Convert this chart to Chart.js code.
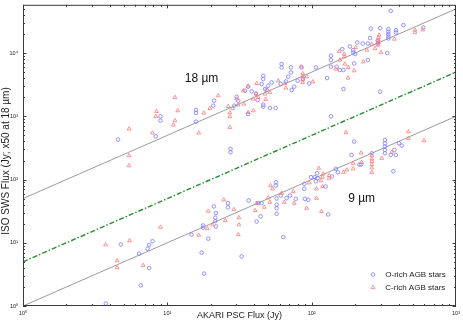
<!DOCTYPE html>
<html><head><meta charset="utf-8">
<script src="https://cdn.jsdelivr.net/npm/chart.js@4"></script>
<style>html,body{margin:0;padding:0;background:#fff;}canvas{display:block;}</style>
</head><body>
<canvas id="c" width="463" height="327"></canvas>
<script>
const xTickValues=[1,10,100,1000];
const xTickLabels=['10⁰','10¹','10²','10³'];
const yTickValues=[1,10,100,1000,10000];
const yTickLabels=['10⁰','10¹','10²','10³','10⁴'];
const seriesNames=['O-rich AGB stars','C-rich AGB stars'];

// O-rich AGB stars: AKARI PSC flux (Jy) and ISO SWS flux (Jy; x50 at 18 um)
const oRichAkari=[4.56,8.32,8.97,8.97,15.8,15.8,15.8,21.1,20.8,30.2,31.0,34.5,36.3,36.3,27.4,27.4,38.4,41.1,45.0,46.2,46.2,47.5,48.8,50.0,52.8,46.2,46.2,51.4,56.3,61.9,61.9,71.8,71.8,68.8,66.3,80.0,75.7,72.7,61.0,85.2,87.0,96.2,107,128,136,136,136,149,157,166,163,184,194,194,200,197,207,226,245,245,257,254,287,287,298,334,340,340,340,340,340,384,384,353,432,594,166,298,136,42.2,29.1,
 3.75,4.76,6.38,6.55,7.29,7.48,7.48,7.90,14.7,17.3,18.0,19.2,32.7,63.6,17.7,17.7,21.7,21.0,21.7,21.5,21.5,26.3,26.3,36.6,41.6,44.3,42.6,45.0,56.5,56.5,57.2,61.2,67.1,70.7,77.5,57.2,57.2,57.2,88.9,88.9,89.8,94.7,98.9,105,110,107,109,125,130,138,147,152,189,197,214,220,261,322,322,322,322,322,353,374,383,403,421,368];
const oRichIso=[428,483,998,854,1260,1129,823,1766,1473,2043,1766,2540,2938,1089,305,270,2476,2253,3242,4381,3887,2702,2606,3047,3435,1528,1420,1354,1354,6705,5925,5925,4940,4226,3562,3653,2938,2606,3242,5925,3929,3313,5925,4031,9066,7754,6077,6077,5390,5390,11570,12710,11150,10220,9643,6853,14700,14170,14170,7754,24450,17250,15640,14170,24810,10000,23920,21690,19950,18280,17000,23070,21140,46540,27670,25350,2702,2449,998,1812,1473,
 1.09,9.42,6.72,2.12,8.06,9.18,3.98,10.6,13.5,6.97,3.25,11.6,6.09,12.3,18.8,17.3,18.1,37.5,29.4,24.9,22.0,42.3,36.5,46.6,21.7,26.1,42.3,42.3,90.7,80.4,50.1,55.9,50.7,55.9,49.6,39.9,35.2,28.7,85.5,71.3,49.6,47.8,109,109,105,94.0,126,77.5,28.0,112,148,130,245,398,173,173,260,423,374,332,294,260,245,294,245,374,344,135];

// C-rich AGB stars
const cRichAkari=[5.43,7.90,5.43,5.43,8.42,8.32,11.8,11.3,11.0,11.3,16.5,17.9,19.7,22.5,26.4,28.3,27.1,27.1,27.1,31.0,33.6,33.9,36.3,36.3,39.4,30.2,39.4,42.6,41.6,41.1,47.5,51.4,58.7,65.3,66.3,84.3,86.6,86.6,86.6,86.6,92.3,102,147,155,157,168,168,170,179,179,197,202,228,241,261,275,290,290,290,290,293,302,374,520,520,589,48.0,
 3.73,5.47,4.49,4.49,6.80,8.97,16.5,31.0,19.2,18.9,20.6,24.6,25.2,28.9,31.3,31.3,40.6,41.6,46.9,50.0,51.4,51.9,53.6,61.9,64.6,74.6,75.7,92.3,96.2,108,108,112,116,119,119,120,132,132,117,166,175,194,194,222,220,173,261,261,261,261,261,261,306,359,468,468,601];
const cRichIso=[631,546,239,166,1197,998,1228,854,730,1991,546,1129,1335,2118,1436,1335,1142,987,669,1511,2540,1567,3014,1154,1228,1879,1879,1991,3313,2303,2253,2388,3653,3313,2803,6077,4764,4226,3789,3435,4226,3524,5589,10600,7754,9643,8744,6705,5925,4031,5255,12260,7290,11150,13870,11820,17630,16040,14700,13380,19240,10220,16630,23070,21140,23320,1852,
 9.32,10.8,5.21,4.04,4.39,17.7,13.2,13.5,31.6,16.7,19.3,47.8,22.5,33.6,24.9,19.3,32.4,42.3,36.5,51.4,43.8,80.4,71.3,60.8,43.8,64.7,42.3,35.2,88.7,71.3,50.7,151,96.4,109,77.5,123,116,105,31.3,130,142,148,181,188,264,558,239,212,194,173,153,130,217,270,572,449,413];

// reference relations: 9 um (y = x), 18 um (y = 50x), separator (y = 5x)
const lineX=[1,1000];
const line9Y=[1,1000];
const line18Y=[50,50000];
const lineMidY=[5,5000];

const bandLabels=['18 µm','9 µm'];
const bandLabelX=[13.2,179];
const bandLabelY=[3930,50.7];

const FONT='"Liberation Sans", Arial, Helvetica, sans-serif';
const BLUE='#7a7aff', RED='#ff7a7a';
const pts=(xs,ys)=>xs.map((v,i)=>({x:v,y:ys[i]}));

const decor={
  id:'decor',
  afterDatasetsDraw(chart){
    const {ctx,chartArea:a,scales:{x,y}}=chart;
    ctx.save();
    ctx.strokeStyle='#3a3a3a';ctx.lineWidth=1;
    ctx.strokeRect(a.left+0.5,a.top+0.5,a.right-a.left-1,a.bottom-a.top-1);
    ctx.beginPath();
    for(let d=0;d<3;d++)for(let m=1;m<10;m++){
      const v=m*Math.pow(10,d); if(v>x.max)break;
      const px=Math.round(x.getPixelForValue(v))+0.5, len=m===1?3.5:2;
      ctx.moveTo(px,a.bottom);ctx.lineTo(px,a.bottom-len);
      ctx.moveTo(px,a.top);ctx.lineTo(px,a.top+len);
    }
    for(let d=0;d<5;d++)for(let m=1;m<10;m++){
      const v=m*Math.pow(10,d); if(v>y.max)break;
      const py=Math.round(y.getPixelForValue(v))+0.5, len=m===1?3.5:2;
      ctx.moveTo(a.left,py);ctx.lineTo(a.left+len,py);
      ctx.moveTo(a.right,py);ctx.lineTo(a.right-len,py);
    }
    ctx.stroke();
    // band labels
    ctx.fillStyle='#111';ctx.font='12px '+FONT;ctx.textBaseline='middle';ctx.textAlign='left';
    bandLabels.forEach((t,i)=>ctx.fillText(t,x.getPixelForValue(bandLabelX[i]),y.getPixelForValue(bandLabelY[i])));
    // legend
    const lx=a.right-83, ly0=a.bottom-31.5, gap=13;
    ctx.font='8px '+FONT;ctx.fillStyle='#222';
    ctx.lineWidth=0.8;
    ctx.strokeStyle=BLUE;ctx.beginPath();ctx.arc(lx,ly0,1.8,0,Math.PI*2);ctx.stroke();
    ctx.strokeStyle=RED;ctx.beginPath();
    const r=2.2,ty=ly0+gap;
    ctx.moveTo(lx,ty-r);ctx.lineTo(lx+r*Math.sin(2*Math.PI/3),ty+r/2);ctx.lineTo(lx-r*Math.sin(2*Math.PI/3),ty+r/2);ctx.closePath();ctx.stroke();
    ctx.fillText(seriesNames[0],lx+12.3,ly0);
    ctx.fillText(seriesNames[1],lx+12.3,ty);
    ctx.restore();
  }
};

new Chart(document.getElementById('c'),{
  type:'scatter',
  data:{datasets:[
    {label:'9 µm relation',data:pts(lineX,line9Y),showLine:true,borderColor:'#9c9c9c',borderWidth:1,pointRadius:0,order:3},
    {label:'18 µm relation',data:pts(lineX,line18Y),showLine:true,borderColor:'#9c9c9c',borderWidth:1,pointRadius:0,order:3},
    {label:'separator',data:pts(lineX,lineMidY),showLine:true,borderColor:'#23902a',borderWidth:1.4,borderDash:[5,2,1.5,2],pointRadius:0,order:3},
    {label:seriesNames[0],data:pts(oRichAkari,oRichIso),pointStyle:'circle',pointRadius:1.8,borderColor:BLUE,backgroundColor:'rgba(0,0,0,0)',pointBorderWidth:0.8,borderWidth:0.8,order:2},
    {label:seriesNames[1],data:pts(cRichAkari,cRichIso),pointStyle:'triangle',pointRadius:2.2,borderColor:RED,backgroundColor:'rgba(0,0,0,0)',pointBorderWidth:0.8,borderWidth:0.8,order:1}
  ]},
  options:{
    responsive:false,animation:false,devicePixelRatio:1,
    layout:{padding:{left:0,right:7,top:4,bottom:0}},
    plugins:{legend:{display:false},tooltip:{enabled:false}},
    scales:{
      x:{type:'logarithmic',min:1,max:1000,position:'bottom',
        grid:{display:false,drawTicks:false},border:{display:false},
        ticks:{font:{size:5.5,family:FONT},color:'#222',padding:4,autoSkip:false,maxRotation:0,
          callback:(v)=>{const i=xTickValues.indexOf(v);return i>=0?xTickLabels[i]:'';}},
        afterBuildTicks:s=>{s.ticks=xTickValues.map(v=>({value:v}));},
        afterFit:s=>{s.height=21;s.paddingLeft=0;s.paddingRight=0;},
        title:{display:true,text:'AKARI PSC Flux (Jy)',font:{size:9,family:FONT},color:'#222',padding:{top:0,bottom:6}}
      },
      y:{type:'logarithmic',min:1,max:58000,position:'left',
        grid:{display:false,drawTicks:false},border:{display:false},
        ticks:{font:{size:5.5,family:FONT},color:'#222',padding:5,autoSkip:false,
          callback:(v)=>{const i=yTickValues.indexOf(v);return i>=0?yTickLabels[i]:'';}},
        afterBuildTicks:s=>{s.ticks=yTickValues.map(v=>({value:v}));},
        afterFit:s=>{s.width=23;s.paddingTop=0;s.paddingBottom=0;},
        title:{display:true,text:'ISO SWS Flux (Jy; x50 at 18 µm)    ',font:{size:10,family:FONT},color:'#222',padding:{top:0,bottom:0}}
      }
    }
  },
  plugins:[decor]
});
</script>
</body></html>
